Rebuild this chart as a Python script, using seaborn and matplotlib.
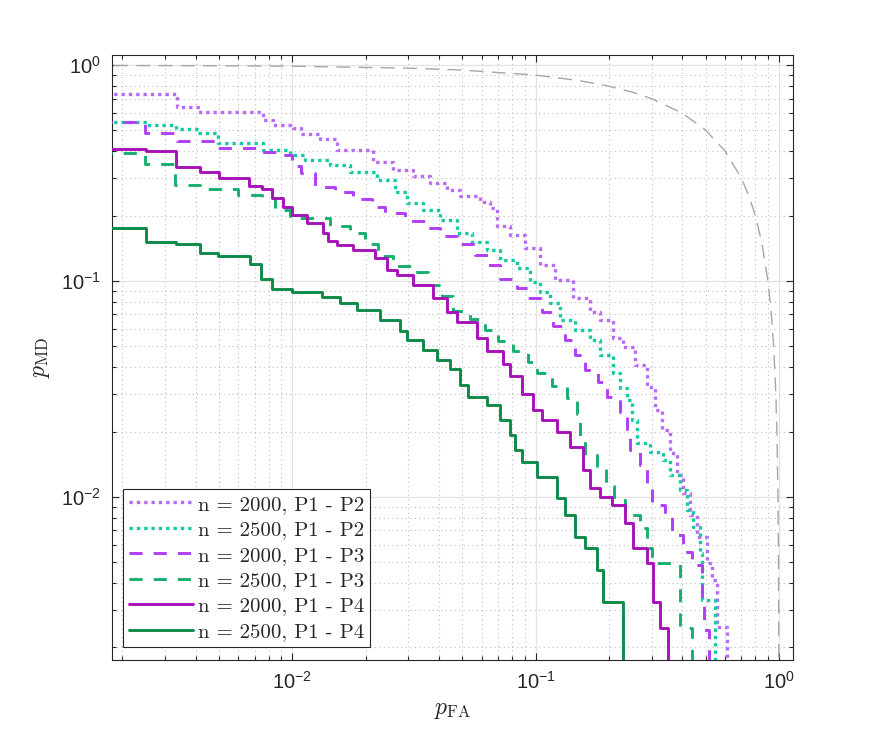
import numpy as np
import matplotlib
matplotlib.use("Agg")
import matplotlib.pyplot as plt
import matplotlib.ticker as mticker
import seaborn as sns

# step curves (p_FA where the step happens, p_MD after it)
fa_2000_p2 = [0.0016, 0.00335, 0.00418, 0.00758, 0.00833, 0.0101, 0.0108, 0.0130, 0.0153, 0.0214,
              0.0259, 0.0313, 0.0368, 0.0432, 0.0489, 0.0590, 0.0648, 0.0693, 0.0783, 0.0903,
              0.104, 0.120, 0.142, 0.167, 0.184, 0.208, 0.228, 0.255, 0.286, 0.309,
              0.330, 0.356, 0.380, 0.402, 0.430, 0.459, 0.505, 0.529, 0.555, 0.610]
md_2000_p2 = [0.734, 0.639, 0.606, 0.556, 0.527, 0.511, 0.479, 0.454, 0.404, 0.355,
              0.326, 0.306, 0.284, 0.264, 0.247, 0.232, 0.218, 0.180, 0.163, 0.142,
              0.118, 0.101, 0.0832, 0.0717, 0.0658, 0.0543, 0.0493, 0.0407, 0.0322, 0.0252,
              0.0204, 0.0159, 0.0126, 0.0104, 0.00822, 0.0065, 0.00492, 0.00411, 0.00249, 0.00114]

fa_2500_p2 = [0.0016, 0.00253, 0.00333, 0.0041, 0.00495, 0.00758, 0.00978, 0.0113, 0.0143, 0.0173,
              0.0223, 0.0264, 0.0296, 0.0344, 0.0404, 0.0475, 0.0547, 0.063, 0.0713, 0.0837,
              0.0946, 0.104, 0.114, 0.126, 0.145, 0.167, 0.184, 0.208, 0.222, 0.237,
              0.248, 0.260, 0.294, 0.333, 0.356, 0.391, 0.418, 0.442, 0.472, 0.482, 0.544]
md_2500_p2 = [0.544, 0.527, 0.505, 0.484, 0.435, 0.404, 0.383, 0.363, 0.344, 0.319,
              0.293, 0.258, 0.229, 0.213, 0.191, 0.167, 0.151, 0.139, 0.125, 0.115,
              0.0987, 0.0887, 0.0789, 0.0658, 0.0592, 0.0532, 0.0453, 0.0374, 0.0319, 0.0280,
              0.0226, 0.0177, 0.0161, 0.0148, 0.0126, 0.0107, 0.00867, 0.00723, 0.00548, 0.00332, 0.00114]

fa_2000_p3 = [0.0016, 0.00248, 0.00336, 0.00491, 0.00737, 0.0089, 0.00997, 0.0108, 0.0124, 0.0150,
              0.0178, 0.0213, 0.0240, 0.0290, 0.0351, 0.0404, 0.0479, 0.0563, 0.0636, 0.0713,
              0.0837, 0.0929, 0.106, 0.118, 0.132, 0.145, 0.159, 0.180, 0.196, 0.222,
              0.237, 0.244, 0.268, 0.286, 0.300, 0.339, 0.363, 0.402, 0.438, 0.482, 0.491, 0.514]
md_2000_p3 = [0.544, 0.484, 0.444, 0.412, 0.395, 0.383, 0.340, 0.316, 0.272, 0.258,
              0.2395, 0.220, 0.206, 0.189, 0.176, 0.161, 0.148, 0.132, 0.118, 0.102,
              0.0926, 0.0832, 0.0717, 0.0617, 0.0532, 0.0453, 0.0386, 0.0340, 0.0289, 0.0247,
              0.0199, 0.0164, 0.0140, 0.0113, 0.00914, 0.00804, 0.00664, 0.00554, 0.00482, 0.00332,
              0.00241, 0.00114]

fa_2500_p3 = [0.0016, 0.00248, 0.0033, 0.00418, 0.00598, 0.00751, 0.00849, 0.00978, 0.0143, 0.0173,
              0.0199, 0.0225, 0.0259, 0.0313, 0.0361, 0.0412, 0.0457, 0.0537, 0.0618, 0.0700,
              0.0806, 0.0929, 0.101, 0.1165, 0.134, 0.148, 0.152, 0.159, 0.178, 0.194,
              0.210, 0.2325, 0.268, 0.286, 0.300, 0.391, 0.438]
md_2500_p3 = [0.391, 0.348, 0.278, 0.266, 0.250, 0.242, 0.213, 0.195, 0.1795, 0.1665,
              0.148, 0.130, 0.117, 0.110, 0.0956, 0.0850, 0.0724, 0.0665, 0.0592, 0.0526,
              0.0473, 0.0420, 0.0374, 0.0326, 0.0286, 0.0241, 0.0191, 0.0156, 0.0139, 0.0112,
              0.00964, 0.00822, 0.00715, 0.00578, 0.00492, 0.00246, 0.00114]

fa_2000_p4 = [0.0016, 0.00251, 0.00333, 0.00418, 0.0050, 0.00664, 0.00751, 0.00825, 0.00916, 0.00997,
              0.0115, 0.0134, 0.0140, 0.0153, 0.0178, 0.0219, 0.0245, 0.0269, 0.0313, 0.0378,
              0.0432, 0.0475, 0.0574, 0.0630, 0.0733, 0.0783, 0.0878, 0.0974, 0.106, 0.122,
              0.138, 0.156, 0.167, 0.184, 0.206, 0.2325, 0.251, 0.286, 0.303, 0.324, 0.349]
md_2000_p4 = [0.408, 0.3995, 0.337, 0.319, 0.2995, 0.275, 0.266, 0.242, 0.220, 0.2017,
              0.1853, 0.1665, 0.153, 0.1465, 0.139, 0.1275, 0.112, 0.1064, 0.0956, 0.0832,
              0.0717, 0.0645, 0.0543, 0.0473, 0.0412, 0.0362, 0.0299, 0.0252, 0.0226, 0.0199,
              0.0170, 0.0133, 0.0110, 0.00996, 0.00914, 0.00755, 0.00578, 0.00492, 0.00325, 0.00246,
              0.00114]

fa_2500_p4 = [0.0016, 0.00251, 0.00333, 0.00418, 0.00495, 0.0067, 0.00744, 0.00825, 0.00997, 0.0132,
              0.0157, 0.0184, 0.0229, 0.0277, 0.0296, 0.0344, 0.0393, 0.0444, 0.0489, 0.0527,
              0.063, 0.0713, 0.0783, 0.0821, 0.0878, 0.101, 0.122, 0.132, 0.145, 0.159,
              0.178, 0.189, 0.228]
md_2500_p4 = [0.1757, 0.1513, 0.148, 0.1345, 0.1303, 0.1197, 0.1019, 0.0916, 0.0887, 0.0841,
              0.0789, 0.0732, 0.0658, 0.0585, 0.0532, 0.0478, 0.0430, 0.0390, 0.0329, 0.0289,
              0.0266, 0.0226, 0.0193, 0.0164, 0.0145, 0.0123, 0.00985, 0.00822, 0.0065, 0.00578,
              0.00457, 0.00325, 0.00114]

# chance line p_MD = 1 - p_FA
chance_fa = [0.0015, 0.005, 0.01, 0.03, 0.05, 0.1, 0.15, 0.2, 0.25, 0.3, 0.4, 0.5, 0.6, 0.7,
             0.75, 0.8, 0.85, 0.9, 0.93, 0.95, 0.97, 0.98, 0.99, 0.995, 0.998, 0.999]
chance_md = [1 - v for v in chance_fa]

labels = ["n = 2000, P1 - P2", "n = 2500, P1 - P2", "n = 2000, P1 - P3",
          "n = 2500, P1 - P3", "n = 2000, P1 - P4", "n = 2500, P1 - P4"]

sns.set_theme(style="ticks")
plt.rcParams["font.family"] = ["Liberation Sans", "DejaVu Sans"]
plt.rcParams["mathtext.fontset"] = "cm"
plt.rcParams["mathtext.default"] = "regular"

dotted = (0, (1, 1.2))
dashed = (0, (4.5, 3.8))
curves = [
    (fa_2000_p2, md_2000_p2, "#B86BF5", dotted, 2.4),
    (fa_2500_p2, md_2500_p2, "#17C9A0", dotted, 2.4),
    (fa_2000_p3, md_2000_p3, "#B13DF5", dashed, 2.1),
    (fa_2500_p3, md_2500_p3, "#17AF6E", dashed, 2.1),
    (fa_2000_p4, md_2000_p4, "#A611B8", "-", 2.1),
    (fa_2500_p4, md_2500_p4, "#0E8A48", "-", 2.1),
]

fig = plt.figure(figsize=(8.8, 7.42), dpi=100)
ax = fig.add_axes([0.127, 0.1105, 0.774, 0.8155])
ax.set_xscale("log")
ax.set_yscale("log")

ax.plot(chance_fa, chance_md, color="#A6A6A6", lw=1.0, linestyle=(0, (10, 6)), zorder=2)

for (fa, md, col, ls, lw), lab in zip(curves, labels):
    sns.lineplot(x=fa, y=md, ax=ax, color=col, linestyle=ls, linewidth=lw,
                 drawstyle="steps-post", estimator=None, sort=False, label=lab, zorder=3)

ax.set_xlim(0.00181, 1.14)
ax.set_ylim(0.00175, 1.117)

ax.grid(True, which="major", color="#E3E3E3", lw=0.9, linestyle="-", zorder=0)
ax.grid(True, which="minor", color="#BDBDBD", lw=0.8, linestyle=(0, (1, 3)), zorder=0)
ax.set_axisbelow(True)
ax.yaxis.set_minor_formatter(mticker.NullFormatter())
ax.xaxis.set_minor_formatter(mticker.NullFormatter())

ax.tick_params(which="both", direction="in", top=True, right=True, colors="#262626",
               labelsize=14.5, width=0.8)
ax.tick_params(which="major", length=5, pad=8)
ax.tick_params(which="minor", length=3)
for sp in ax.spines.values():
    sp.set_color("#262626")
    sp.set_linewidth(0.8)

ax.set_xlabel(r"$\mathit{p}_{\mathrm{FA}}$", fontsize=17, labelpad=4)
ax.set_ylabel(r"$\mathit{p}_{\mathrm{MD}}$", fontsize=17, labelpad=6)

leg = ax.legend(loc="lower left", bbox_to_anchor=(0.016, 0.021), borderaxespad=0,
                prop={"family": ["cmr10", "DejaVu Serif"], "size": 15},
                handlelength=3.1, handletextpad=0.2, labelspacing=0.33, borderpad=0.3,
                fancybox=False, framealpha=1, edgecolor="#262626")
leg.get_frame().set_linewidth(0.8)

fig.savefig("out.png", dpi=100)
